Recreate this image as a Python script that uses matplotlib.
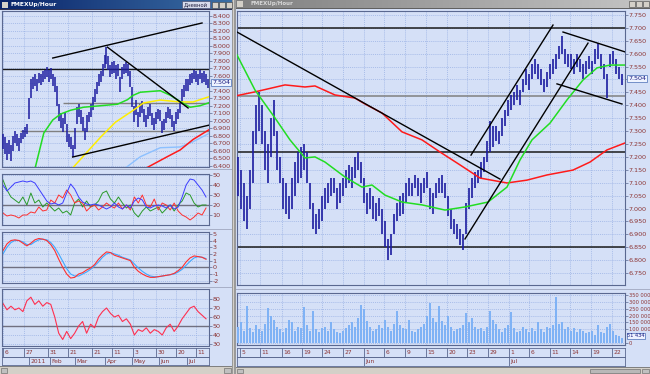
import matplotlib
matplotlib.use("Agg")
import matplotlib.pyplot as plt
from matplotlib.patches import Rectangle
from matplotlib.ticker import FuncFormatter
from matplotlib.colors import LinearSegmentedColormap
import numpy as np

# ================= DATA =================
# ---- left window (daily) ----
left_high = [6.82, 6.78, 6.70, 6.74, 6.68, 6.80, 6.86, 6.82, 6.77, 6.84,
             6.88, 6.92, 6.95, 7.30, 7.55, 7.58, 7.62, 7.56, 7.64, 7.62,
             7.66, 7.68, 7.72, 7.67, 7.70, 7.62, 7.58, 7.46, 7.22, 7.10,
             7.04, 7.12, 6.95, 6.82, 6.78, 6.68, 6.90, 7.18, 7.22, 7.14,
             7.05, 6.90, 7.08, 7.12, 7.22, 7.32, 7.42, 7.52, 7.62, 7.66,
             7.76, 7.88, 7.98, 7.86, 7.74, 7.78, 7.80, 7.74, 7.76, 7.58,
             7.72, 7.76, 7.78, 7.75, 7.66, 7.45, 7.20, 7.28, 7.12, 7.22,
             7.26, 7.16, 7.08, 7.18, 7.22, 7.10, 7.04, 7.12, 7.16, 7.14,
             7.00, 7.02, 7.12, 7.18, 7.16, 7.08, 7.00, 7.12, 7.16, 7.26,
             7.42, 7.48, 7.56, 7.55, 7.62, 7.64, 7.68, 7.66, 7.62, 7.68,
             7.64, 7.66, 7.62, 7.56]
left_low = [6.62, 6.55, 6.48, 6.56, 6.46, 6.60, 6.70, 6.66, 6.60, 6.70,
            6.76, 6.78, 6.82, 7.02, 7.30, 7.42, 7.46, 7.40, 7.50, 7.48,
            7.52, 7.55, 7.58, 7.52, 7.56, 7.46, 7.38, 7.20, 7.00, 6.90,
            6.85, 6.95, 6.72, 6.65, 6.62, 6.52, 6.62, 6.95, 7.05, 6.96,
            6.86, 6.74, 6.85, 6.98, 7.05, 7.14, 7.25, 7.36, 7.46, 7.52,
            7.60, 7.70, 7.76, 7.68, 7.58, 7.62, 7.64, 7.56, 7.60, 7.38,
            7.55, 7.62, 7.64, 7.60, 7.45, 7.18, 6.98, 7.08, 6.92, 7.05,
            7.10, 6.98, 6.92, 7.02, 7.06, 6.94, 6.88, 6.96, 7.02, 7.00,
            6.84, 6.88, 6.97, 7.04, 7.02, 6.92, 6.86, 6.95, 7.02, 7.10,
            7.24, 7.32, 7.40, 7.40, 7.48, 7.50, 7.55, 7.52, 7.48, 7.55,
            7.50, 7.52, 7.48, 7.44]
left_last = 7.504
left_levels = [7.69, 7.236, 6.867]
left_level_start = [-0.5, 30, 8.5]
left_trend_x = [[25, 100], [52.5, 93], [35, 104]]
left_trend_y = [[7.836, 8.303], [7.98, 7.17], [6.516, 6.944]]
left_green_x = [15.5, 20.5, 25, 29, 34, 40.5, 49, 57.5, 62.5, 65.5, 69, 79, 84, 90, 94, 99, 103.5]
left_green_y = [6.30, 6.836, 7.01, 7.09, 7.14, 7.18, 7.20, 7.22, 7.28, 7.34, 7.38, 7.40, 7.34, 7.24, 7.18, 7.20, 7.24]
left_yellow_x = [35, 49, 56.5, 65.5, 70.5, 79, 89, 95.5, 103.5]
left_yellow_y = [6.37, 6.78, 6.98, 7.14, 7.236, 7.276, 7.25, 7.25, 7.32]
left_lblue_x = [61.5, 69, 79, 89, 95.5, 103.5]
left_lblue_y = [6.37, 6.52, 6.64, 6.65, 6.72, 6.83]
left_red_x = [72, 82.5, 89, 95.5, 103.5]
left_red_y = [6.37, 6.52, 6.61, 6.75, 6.88]

left_ind_x = list(range(0, 104, 2))
adx_line = [40, 34, 38, 42, 43, 44, 43, 44, 42, 36, 30, 24, 21, 22, 20, 22, 32, 41, 36, 28,
            23, 21, 20, 21, 20, 18, 16, 18, 22, 18, 16, 20, 17, 24, 27, 25, 18, 17, 19, 20,
            19, 17, 20, 16, 18, 28, 40, 46, 45, 40, 35, 28]
minus_di = [12, 9, 10, 9, 7, 10, 10, 13, 12, 18, 14, 15, 25, 22, 30, 27, 35, 30, 22, 24,
            22, 14, 18, 20, 15, 18, 22, 19, 17, 22, 16, 20, 15, 28, 22, 30, 20, 18, 26, 15,
            22, 20, 15, 22, 14, 10, 8, 5, 8, 12, 10, 17]
plus_di = [45, 35, 28, 25, 22, 28, 20, 32, 22, 25, 18, 22, 18, 14, 17, 12, 14, 10, 22, 26,
           18, 24, 18, 20, 24, 32, 34, 26, 22, 28, 22, 17, 20, 12, 8, 14, 18, 14, 16, 18,
           12, 16, 20, 14, 20, 24, 32, 30, 22, 18, 20, 20]
macd_line = [2.5, 3.5, 4.0, 4.1, 4.0, 3.6, 3.2, 3.6, 4.1, 4.3, 4.2, 4.0, 3.4, 2.5, 1.2, 0.0,
             -1.0, -1.6, -1.5, -1.0, -0.8, -0.4, -0.1, 0.4, 1.2, 1.8, 2.3, 2.2, 1.8, 1.6,
             1.4, 1.2, 1.0, 0.0, -0.6, -1.0, -1.3, -1.5, -1.5, -1.4, -1.3, -1.2, -1.1, -0.9,
             -0.5, 0.0, 0.8, 1.4, 1.7, 1.6, 1.5, 1.2]
signal_line = [2.0, 3.0, 3.7, 4.0, 4.0, 3.8, 3.4, 3.4, 3.8, 4.1, 4.2, 4.1, 3.7, 3.0, 2.0, 0.9,
               -0.2, -1.0, -1.3, -1.3, -1.0, -0.7, -0.3, 0.2, 0.8, 1.5, 2.0, 2.2, 2.0, 1.8,
               1.5, 1.3, 1.1, 0.5, -0.1, -0.6, -1.0, -1.3, -1.4, -1.4, -1.3, -1.2, -1.1, -1.0,
               -0.7, -0.3, 0.3, 0.9, 1.4, 1.6, 1.5, 1.3]
rsi_line = [75, 68, 72, 68, 70, 66, 78, 82, 74, 78, 72, 76, 74, 60, 42, 35, 44, 36, 42, 50,
            55, 42, 52, 48, 60, 66, 70, 64, 60, 62, 55, 58, 52, 40, 46, 44, 48, 42, 46, 44,
            40, 48, 52, 44, 50, 58, 64, 70, 72, 66, 62, 58]

left_price_ticks = [6.4, 6.5, 6.6, 6.7, 6.8, 6.9, 7.0, 7.1, 7.2, 7.3, 7.4, 7.5, 7.6, 7.7,
                    7.8, 7.9, 8.0, 8.1, 8.2, 8.3, 8.4]
adx_ticks = [10, 20, 30, 40, 50]
macd_ticks = [-2, -1, 0, 1, 2, 3, 4, 5]
rsi_ticks = [30, 40, 50, 60, 70, 80]
left_date_pos = [0, 10.6, 22.6, 32.7, 44.7, 54.8, 65.3, 76.9, 86.9, 97]
left_date_lbl = ['6', '27', '31', '21', '21', '11', '3', '30', '20', '11']
left_month_pos = [13.1, 23.6, 36.2, 51.3, 64.8, 78.4, 92.5]
left_month_lbl = ['2011', 'Feb', 'Mar', 'Apr', 'May', 'Jun', 'Jul']

# ---- right window (hourly) ----
right_high = [7.20, 7.15, 7.10, 7.05, 7.15, 7.30, 7.40, 7.45, 7.40, 7.30,
              7.25, 7.35, 7.42, 7.30, 7.20, 7.12, 7.10, 7.05, 7.12, 7.18,
              7.22, 7.24, 7.25, 7.22, 7.10, 7.02, 6.98, 7.00, 7.05, 7.08,
              7.10, 7.12, 7.12, 7.08, 7.10, 7.12, 7.15, 7.17, 7.16, 7.20,
              7.22, 7.18, 7.12, 7.06, 7.08, 7.05, 7.02, 7.04, 7.00, 6.95,
              6.88, 6.90, 6.98, 7.02, 7.05, 7.06, 7.10, 7.12, 7.10, 7.13,
              7.12, 7.10, 7.12, 7.14, 7.08, 7.06, 7.10, 7.12, 7.13, 7.10,
              7.05, 7.00, 6.96, 6.94, 6.92, 6.90, 7.02, 7.08, 7.12, 7.14,
              7.15, 7.18, 7.20, 7.26, 7.34, 7.32, 7.32, 7.30, 7.35, 7.38,
              7.42, 7.44, 7.45, 7.48, 7.46, 7.50, 7.54, 7.52, 7.56, 7.58,
              7.56, 7.54, 7.50, 7.53, 7.56, 7.58, 7.60, 7.63, 7.67, 7.62,
              7.60, 7.60, 7.58, 7.60, 7.58, 7.56, 7.57, 7.59, 7.57, 7.62,
              7.64, 7.60, 7.56, 7.52, 7.60, 7.61, 7.58, 7.55, 7.52]
right_low = [7.05, 7.00, 6.95, 6.92, 7.00, 7.10, 7.25, 7.30, 7.25, 7.15,
             7.10, 7.20, 7.28, 7.15, 7.10, 7.00, 6.98, 6.96, 7.00, 7.05,
             7.10, 7.12, 7.15, 7.10, 7.00, 6.92, 6.90, 6.92, 6.95, 7.00,
             7.02, 7.05, 7.06, 7.00, 7.02, 7.05, 7.08, 7.10, 7.08, 7.12,
             7.15, 7.10, 7.02, 6.98, 7.00, 6.96, 6.95, 6.97, 6.90, 6.85,
             6.80, 6.82, 6.90, 6.95, 6.97, 6.98, 7.02, 7.05, 7.05, 7.08,
             7.05, 7.02, 7.06, 7.08, 7.00, 6.98, 7.04, 7.06, 7.06, 7.04,
             6.97, 6.92, 6.90, 6.88, 6.86, 6.84, 6.90, 7.00, 7.04, 7.08,
             7.10, 7.12, 7.14, 7.18, 7.22, 7.24, 7.26, 7.25, 7.28, 7.32,
             7.36, 7.38, 7.40, 7.42, 7.40, 7.45, 7.48, 7.46, 7.50, 7.52,
             7.50, 7.48, 7.45, 7.47, 7.50, 7.52, 7.54, 7.58, 7.60, 7.56,
             7.55, 7.54, 7.52, 7.55, 7.53, 7.50, 7.52, 7.54, 7.52, 7.56,
             7.58, 7.54, 7.50, 7.43, 7.55, 7.56, 7.52, 7.50, 7.48]
right_volume = [120, 150, 90, 270, 110, 80, 130, 100, 90, 140,
                255, 200, 170, 120, 100, 80, 110, 170, 150, 90,
                120, 110, 262, 130, 90, 230, 100, 80, 110, 120,
                90, 150, 100, 80, 70, 90, 110, 130, 150, 120,
                180, 277, 250, 160, 120, 90, 100, 130, 110, 170,
                120, 90, 140, 230, 130, 110, 100, 170, 90, 80,
                100, 120, 140, 200, 290, 180, 150, 270, 160, 130,
                200, 120, 90, 100, 110, 130, 219, 150, 180, 120,
                100, 110, 90, 120, 230, 170, 140, 100, 80, 110,
                130, 226, 110, 80, 90, 120, 100, 80, 110, 90,
                150, 100, 80, 120, 110, 130, 335, 140, 150, 100,
                120, 90, 110, 80, 100, 90, 70, 80, 90, 60,
                130, 80, 70, 120, 140, 90, 60, 50, 40]
right_last = 7.504
right_last_volume = 51434
right_levels = [7.70, 7.436, 7.219, 6.85]
right_trend_x = [[-0.33, 87.33], [75.67, 116.67], [77.67, 105], [108.33, 129], [106.33, 128]]
right_trend_y = [[7.684, 7.114], [6.882, 7.641], [7.207, 7.711], [7.684, 7.607], [7.483, 7.405]]
right_red_x = [-1, 5.67, 15.67, 22.33, 25.67, 32.33, 39, 42.33, 48, 54.67, 61.33, 67.33,
               74, 80.67, 89.67, 96.33, 103, 111.67, 117.33, 123, 129]
right_red_y = [7.436, 7.452, 7.479, 7.471, 7.475, 7.440, 7.428, 7.405, 7.370, 7.297, 7.266,
               7.219, 7.169, 7.118, 7.099, 7.110, 7.130, 7.149, 7.180, 7.227, 7.254]
right_green_x = [-0.33, 5.67, 12.33, 17.33, 22.33, 25.67, 29, 35.67, 41.33, 44.67, 49, 54.67,
                 61.33, 69, 75.67, 83.33, 89.67, 94, 98, 104, 109.67, 115, 119.67, 124, 129]
right_green_y = [7.595, 7.459, 7.351, 7.266, 7.196, 7.200, 7.180, 7.122, 7.083, 7.091, 7.052,
                 7.025, 7.014, 6.994, 7.006, 7.025, 7.083, 7.188, 7.266, 7.331, 7.421, 7.498,
                 7.545, 7.556, 7.556]
right_price_ticks = [6.75, 6.80, 6.85, 6.90, 6.95, 7.00, 7.05, 7.10, 7.15, 7.20, 7.25, 7.30,
                     7.35, 7.40, 7.45, 7.50, 7.55, 7.60, 7.65, 7.70, 7.75]
volume_ticks = [0, 100, 150, 200, 250, 300, 350]
right_date_pos = [0.67, 7.33, 14.67, 21.33, 28, 35, 42, 48.67, 55.67, 62.67, 69.67, 76.33,
                  83.33, 90.33, 97, 104, 110.67, 117.67, 124.67]
right_date_lbl = ['5', '11', '16', '19', '24', '27', '1', '6', '9', '15', '20', '23', '29',
                  '1', '6', '11', '14', '19', '22']
right_month_pos = [42, 90.33]
right_month_lbl = ['Jun', 'Jul']

# ================= STYLE =================
W, H = 650, 374
BG = '#d5e0f7'
FRAME = '#5a6890'
GRID = '#98b0e4'
LBL = '#8c3434'
BAR = '#1c1ca0'

fig = plt.figure(figsize=(6.5, 3.74), dpi=100)
fig.patch.set_facecolor(BG)


def px_axes(x0, y0, x1, y1):
    return fig.add_axes([x0 / W, 1 - y1 / H, (x1 - x0) / W, (y1 - y0) / H])


def panel(x0, y0, x1, y1, xlim, ylim, yticks, fmt, grid_x, lsize=4.6):
    ax = px_axes(x0, y0, x1, y1)
    ax.set_facecolor('none')
    ax.set_xlim(*xlim)
    ax.set_ylim(*ylim)
    ax.set_xticks(grid_x)
    ax.set_yticks(yticks)
    ax.yaxis.set_major_formatter(FuncFormatter(fmt))
    ax.tick_params(axis='x', bottom=False, labelbottom=False)
    ax.tick_params(axis='y', left=False, labelleft=False, right=True, labelright=True,
                   length=2, width=0.5, pad=0.6, labelsize=lsize, color=FRAME, labelcolor=LBL)
    ax.grid(True, color=GRID, lw=0.5, ls=(0, (1.5, 1.5)))
    ax.set_axisbelow(True)
    for s in ax.spines.values():
        s.set_color(FRAME)
        s.set_linewidth(0.8)
    return ax


def date_row(x0, y0, x1, y1, xlim, pos, lbl):
    ax = px_axes(x0, y0, x1, y1)
    ax.set_facecolor('none')
    ax.set_xlim(*xlim)
    ax.set_ylim(0, 1)
    ax.set_xticks([])
    ax.set_yticks([])
    for s in ax.spines.values():
        s.set_color(FRAME)
        s.set_linewidth(0.6)
    for p, l in zip(pos, lbl):
        ax.axvline(p, color=FRAME, lw=0.6)
        ax.annotate(l, (p, 0.45), xycoords=('data', 'axes fraction'), xytext=(1.2, 0),
                    textcoords='offset points', ha='left', va='center', fontsize=4.3,
                    color=LBL)
    return ax


def gradient_bar(x0, y0, x1, y1, c0, c1):
    ax = px_axes(x0, y0, x1, y1)
    cm = LinearSegmentedColormap.from_list('g', [c0, c1])
    ax.imshow(np.linspace(0, 1, 256)[None, :], aspect='auto', cmap=cm, extent=(0, 1, 0, 1))
    ax.set_xlim(0, 1)
    ax.set_ylim(0, 1)
    ax.set_axis_off()
    return ax


def rect(x0, y0, x1, y1, fc, ec='none', lw=0):
    fig.patches.append(Rectangle((x0 / W, 1 - y1 / H), (x1 - x0) / W, (y1 - y0) / H,
                                 transform=fig.transFigure, fc=fc, ec=ec, lw=lw))


f3 = lambda v, p: f'{v:.3f}'
fint = lambda v, p: f'{v:.0f}'
fvol = lambda v, p: '0' if v == 0 else f'{int(v):d} 000'

# ================= LEFT WINDOW =================
LX = (-0.5, 103.5)
n_left = len(left_high)
ax = panel(2, 11, 209, 167, LX, (6.383, 8.463), left_price_ticks, f3, left_date_pos)
ax.vlines(range(n_left), left_low, left_high, color=BAR, lw=1.1, zorder=3)
ax.plot(left_lblue_x, left_lblue_y, color='#8cc0ff', lw=1.0, zorder=4)
ax.plot(left_red_x, left_red_y, color='#ff1a1a', lw=1.1, zorder=4)
ax.plot(left_yellow_x, left_yellow_y, color='#ffee00', lw=1.1, zorder=4)
ax.plot(left_green_x, left_green_y, color='#22dd22', lw=1.1, zorder=4)
for lv, st, c in zip(left_levels, left_level_start, ['#1a1a1a', '#808080', '#808080']):
    ax.hlines(lv, st, LX[1], color=c, lw=1.0, zorder=2)
for tx, ty in zip(left_trend_x, left_trend_y):
    ax.plot(tx, ty, color='black', lw=1.0, zorder=5)
ax.annotate(f'{left_last:.3f}', (1, left_last), xycoords=('axes fraction', 'data'),
            xytext=(2.2, 0), textcoords='offset points', ha='left', va='center',
            fontsize=4.6, color='#1a1a80',
            bbox=dict(boxstyle='square,pad=0.15', fc='#eef3ff', ec='#6080c0', lw=0.6))

ax = panel(2, 174, 209, 225, LX, (0, 51), adx_ticks, fint, left_date_pos)
ax.axhline(20, color='#707080', lw=1.0)
ax.plot(left_ind_x, plus_di, color='#2a9a2a', lw=0.7)
ax.plot(left_ind_x, minus_di, color='#ff3030', lw=0.7)
ax.plot(left_ind_x, adx_line, color='#3c3cff', lw=0.7)

ax = panel(2, 232, 209, 283, LX, (-2.34, 5.27), macd_ticks, fint, left_date_pos)
ax.axhline(0, color='#707080', lw=1.0)
ax.plot(left_ind_x, signal_line, color='#40a8ff', lw=0.8)
ax.plot(left_ind_x, macd_line, color='#ff3030', lw=0.8)

ax = panel(2, 289, 209, 346, LX, (27.8, 91.1), rsi_ticks, fint, left_date_pos)
ax.axhline(50, color='#707080', lw=1.0)
ax.plot(left_ind_x, rsi_line, color='#ff3050', lw=0.8)

date_row(2, 348, 209, 357, LX, left_date_pos, left_date_lbl)
date_row(2, 357, 209, 365, LX, left_month_pos, left_month_lbl)

# ================= RIGHT WINDOW =================
RX = (-0.33, 129)
n_right = len(right_high)
ax = panel(237, 11, 625, 285, RX, (6.7035, 7.7655), right_price_ticks, f3, right_date_pos)
ax.vlines(range(n_right), right_low, right_high, color=BAR, lw=1.2, zorder=3)
ax.plot(right_red_x, right_red_y, color='#ff1a1a', lw=1.1, zorder=4)
ax.plot(right_green_x, right_green_y, color='#22dd22', lw=1.1, zorder=4)
for lv, c in zip(right_levels, ['#1a1a1a', '#808080', '#1a1a1a', '#1a1a1a']):
    ax.axhline(lv, color=c, lw=1.1, zorder=2)
for tx, ty in zip(right_trend_x, right_trend_y):
    ax.plot(tx, ty, color='black', lw=1.0, zorder=5)
ax.annotate(f'{right_last:.3f}', (1, right_last), xycoords=('axes fraction', 'data'),
            xytext=(2.2, 0), textcoords='offset points', ha='left', va='center',
            fontsize=4.6, color='#1a1a80',
            bbox=dict(boxstyle='square,pad=0.15', fc='#eef3ff', ec='#6080c0', lw=0.6))

ax = panel(237, 293, 625, 345, RX, (-14.6, 364.6), volume_ticks, fvol, right_date_pos,
           lsize=3.7)
ax.bar(range(n_right), right_volume, width=0.9, color='#7fb2f5', zorder=3)
lv_k = right_last_volume / 1000
ax.annotate(f'{right_last_volume // 1000} {right_last_volume % 1000:03d}', (1, lv_k),
            xycoords=('axes fraction', 'data'), xytext=(1.6, 0), textcoords='offset points',
            ha='left', va='center', fontsize=3.7, color='#1a1a80',
            bbox=dict(boxstyle='square,pad=0.12', fc='#eef3ff', ec='#6080c0', lw=0.6))

date_row(237, 348, 625, 357, RX, right_date_pos, right_date_lbl)
date_row(237, 357, 625, 366, RX, right_month_pos, right_month_lbl)

# ================= WINDOW CHROME =================
for yy in (170, 229, 287):
    rect(0, yy - 0.5, 233, yy + 0.5, '#a8b0c8')
rect(235, 288.5, 650, 289.5, '#a8b0c8')
rect(232, 0, 236, H, '#9a9a9a')
rect(233, 0, 234, H, '#d4d0c8')
rect(0, 366, 232, H, '#d4d0c8')
rect(236, 367, W, H, '#d4d0c8')
rect(0, 366, 232, 367, '#808080')
rect(236, 367, W, 368, '#808080')
rect(1, 368, 7, 373, '#c0c0c0', '#606060', 0.4)
rect(224, 368, 231, 373, '#c0c0c0', '#606060', 0.4)
rect(237, 369, 243, 373, '#c0c0c0', '#606060', 0.4)
rect(590, 369, 640, 373, '#b8b8b8', '#606060', 0.4)
rect(642, 369, 649, 373, '#c0c0c0', '#606060', 0.4)

tb = gradient_bar(0, 0, 232, 9, '#0a246a', '#3a6ea5')
tb.text(0.045, 0.5, 'FMEXUp/Hour', color='white', fontsize=4.3, fontweight='bold',
        va='center', ha='left')
rect(1.5, 1.5, 7.5, 7.5, '#d4d0c8')
rect(182, 1, 210, 8, '#d8dcec', '#404060', 0.4)
fig.text(196 / W, 1 - 4.6 / H, 'Дневной', fontsize=3.8, color='#202040', ha='center',
         va='center')
for bx in (212, 219, 226):
    rect(bx, 1.5, bx + 6, 7.5, '#d4d0c8', '#404040', 0.4)

tb2 = gradient_bar(236, 0, W, 8, '#808080', '#c4c4c4')
tb2.text(0.035, 0.5, 'FMEXUp/Hour', color='#d8d8d8', fontsize=4.0, fontweight='bold',
         va='center', ha='left')
rect(237, 1.5, 243, 6.5, '#d4d0c8')
for bx in (629, 636, 643):
    rect(bx, 1.5, bx + 6, 6.5, '#d4d0c8', '#404040', 0.4)
rect(236, 8, W, 9, '#606060')
rect(0, 9, 232, 10, '#303050')

fig.savefig('out.png', dpi=100, facecolor=BG)
